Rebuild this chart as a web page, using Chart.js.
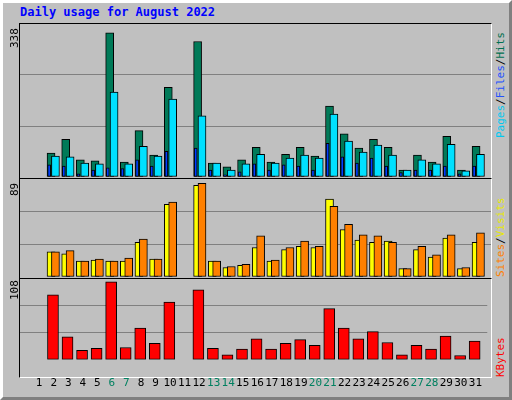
<!DOCTYPE html>
<html>
<head>
<meta charset="utf-8">
<script src="https://cdn.jsdelivr.net/npm/chart.js@4"></script>
<style>
body { margin: 0; background: #fff; }
#wrap { position: relative; width: 506px; height: 394px; background: #c0c0c0;
  border-top: 3px solid #fff; border-left: 3px solid #fff; border-right: 3px solid #808080; border-bottom: 3px solid #808080; }
#wrap canvas { position: absolute; }
.t { position: absolute; font-family: "DejaVu Sans Mono", monospace; font-size: 11px; white-space: nowrap; }
.rot { transform-origin: 0 0; transform: rotate(-90deg); }
.panel { position: absolute; left: 16px; width: 471px; border-top: 1px solid #000; border-left: 1px solid #000; border-right: 1px solid #fff; border-bottom: 1px solid #fff; }
</style>
</head>
<body>
<div id="wrap">
  <div class="t" style="left:17px;top:2px;font-weight:bold;font-size:12px;color:#0000ff">Daily usage for August 2022</div>
  <div class="panel" style="top:20px;height:154px"></div>
  <div class="panel" style="top:175px;height:99px"></div>
  <div class="panel" style="top:275px;height:98px"></div>
  <canvas id="c1" width="471" height="153" style="left:17px;top:21px"></canvas>
  <canvas id="c2" width="471" height="98" style="left:17px;top:176px"></canvas>
  <canvas id="c3" width="471" height="120" style="left:17px;top:276px"></canvas>
  <div class="t rot" style="left:5px;top:45px">338</div>
  <div class="t rot" style="left:5px;top:193px">89</div>
  <div class="t rot" style="left:5px;top:297px">108</div>
  <div class="t rot" style="left:491px;top:135px"><span style="color:#00c8f0">Pages</span><span style="color:#000">/</span><span style="color:#2050ff">Files</span><span style="color:#000">/</span><span style="color:#007050">Hits</span></div>
  <div class="t rot" style="left:491px;top:274px"><span style="color:#ff8000">Sites</span><span style="color:#000">/</span><span style="color:#e8e800">Visits</span></div>
  <div class="t rot" style="left:491px;top:374px;color:#ff0000">KBytes</div>
</div>
<script>
const days = Array.from({length: 31}, (_, i) => i + 1);
const weekend = [6, 7, 13, 14, 20, 21, 27, 28];
const hits   = [null,55,86,39,37,330,34,106,50,205,null,310,32,23,39,68,34,52,68,48,162,99,66,86,68,16,50,34,93,16,70];
const files  = [null,48,46,32,30,194,30,70,48,178,null,140,32,16,30,52,32,43,50,43,144,82,57,73,50,16,39,30,75,14,52];
const pages  = [null,28,25,7,16,21,19,39,25,59,null,66,16,5,12,30,16,28,25,16,77,46,32,43,25,10,16,16,25,7,25];
const visits = [null,24,22,15,16,15,15,33,17,69,null,87,15,9,11,28,15,26,29,28,74,45,35,33,34,8,26,19,37,8,33];
const sites  = [null,24,25,15,17,15,18,36,17,71,null,89,15,10,12,39,16,28,34,29,67,50,40,39,33,8,29,21,40,9,42];
const kbytes = [null,90,32,13,16,108,17,44,23,80,null,97,16,7,15,29,15,23,28,20,71,44,29,39,24,7,20,15,33,6,26];

Chart.defaults.animation = false;
Chart.defaults.devicePixelRatio = 1;

function pts(arr, off) {
  return arr.map((v, i) => ({ x: days[i] + off, y: v }));
}
function bar(label, arr, off, color, w, order) {
  return { label, data: pts(arr, off), backgroundColor: color, borderColor: '#000',
    borderWidth: 1, borderSkipped: false, barThickness: w, grouped: false, order };
}
function make(id, datasets, top, showX) {
  new Chart(document.getElementById(id), {
    type: 'bar',
    data: { datasets },
    options: {
      responsive: false,
      layout: { padding: 0 },
      plugins: { legend: { display: false }, tooltip: { enabled: false } },
      scales: {
        x: {
          type: 'linear', min: 0.2, max: 31.3, display: showX,
          grid: { display: false }, border: { display: false },
          afterBuildTicks: s => { s.ticks = days.map(d => ({ value: d })); },
          ticks: {
            autoSkip: false, maxRotation: 0, padding: 9,
            font: { family: 'DejaVu Sans Mono', size: 11 },
            color: c => weekend.includes(c.tick.value) ? '#008060' : '#000'
          }
        },
        y: {
          min: 0, max: top,
          afterFit: s => { s.width = 0; },
          afterBuildTicks: s => { s.ticks = [0, top / 3, 2 * top / 3, top].map(v => ({ value: v })); },
          ticks: { display: false },
          border: { display: false },
          grid: { color: c => (c.index === 1 || c.index === 2) ? '#808080' : 'rgba(0,0,0,0)', drawTicks: false, lineWidth: 1 }
        }
      }
    }
  });
}

make('c1', [
  bar('Hits', hits, -0.2, '#007a58', 8, 3),
  bar('Files', files, 0.1, '#00e0ff', 8, 2),
  bar('Pages', pages, -0.33, '#0040ff', 3, 1)
], 350, false);
make('c2', [
  bar('Visits', visits, -0.2, '#ffff00', 8, 2),
  bar('Sites', sites, 0.1, '#ff8000', 8, 1)
], 93, false);
make('c3', [
  bar('KBytes', kbytes, -0.05, '#ff0000', 11, 1)
], 112, true);
</script>
</body>
</html>
